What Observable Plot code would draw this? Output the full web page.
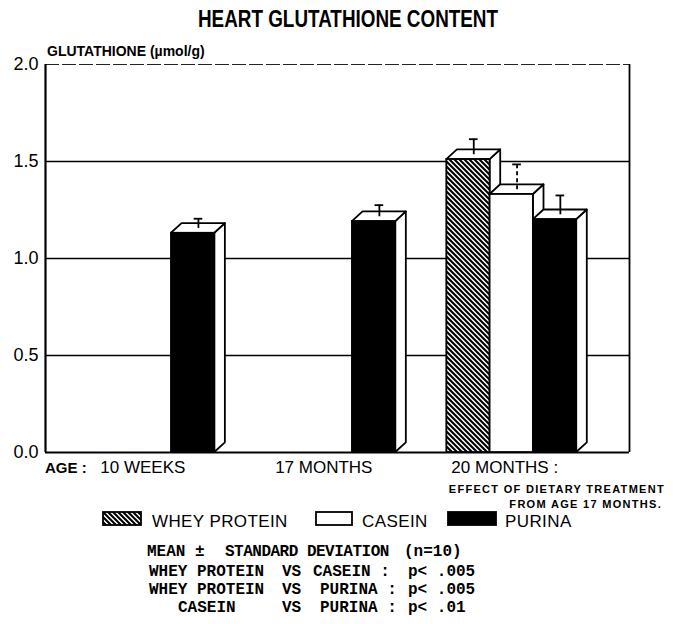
<!DOCTYPE html>
<html><head><meta charset="utf-8">
<script src="https://cdn.jsdelivr.net/npm/d3@7"></script>
<script src="https://cdn.jsdelivr.net/npm/@observablehq/plot@0.6"></script>
<style>
html,body{margin:0;padding:0;background:#fff;}
#wrap{position:relative;width:674px;height:624px;overflow:hidden;font-family:"Liberation Sans",Arial,sans-serif;color:#000;background:#fff;}
.t{position:absolute;white-space:pre;line-height:1;color:#000;}
#chart{position:absolute;left:0;top:0;}
</style></head><body>
<svg width="0" height="0" style="position:absolute"><defs>
<pattern id="hatch" patternUnits="userSpaceOnUse" width="5" height="5">
<rect width="5" height="5" fill="white"/>
<path d="M-1,-1 L6,6 M-1,4 L1,6 M4,-1 L6,1" stroke="black" stroke-width="2.1"/>
</pattern></defs></svg>
<div id="wrap"><div id="chart"></div></div>
<script>
// ---- data ----
const ages = ["10 WEEKS", "17 MONTHS", "20 MONTHS :"];
const diets = ["WHEY PROTEIN", "CASEIN", "PURINA"];
const barAge = ["10 WEEKS", "17 MONTHS", "20 MONTHS :", "20 MONTHS :", "20 MONTHS :"];
const barDiet = ["PURINA", "PURINA", "WHEY PROTEIN", "CASEIN", "PURINA"];
const barMean = [1.13, 1.19, 1.51, 1.33, 1.20];
const barSD = [0.05, 0.06, 0.08, 0.13, 0.10];
const yTicks = [0, 0.5, 1.0, 1.5, 2.0];
const gridValues = [0.5, 1.0, 1.5];
const statA = ["WHEY PROTEIN", "WHEY PROTEIN", "CASEIN"];
const statB = ["CASEIN :", "PURINA :", "PURINA :"];
const statP = ["p< .005", "p< .005", "p< .01"];

// ---- layout (scale units) ----
const GROUP = 4.18, DX = 0.245, DY = 0.05, XMIN = -0.91, XMAX = 12.58;

const bars = barMean.map((m, k) => {
  const x0 = ages.indexOf(barAge[k]) * GROUP + diets.indexOf(barDiet[k]);
  return {k, age: barAge[k], diet: barDiet[k], mean: m, sd: barSD[k], x0, x1: x0 + 1,
    cx: x0 + 0.5 + DX / 2, base: m + DY / 2, top: m + DY / 2 + barSD[k]};
});
const side = bars.flatMap(b => [
  {k: b.k, x: b.x1, y1: 0, y2: b.mean},
  {k: b.k, x: b.x1 + DX, y1: DY, y2: b.mean + DY}
]);
const topFace = bars.flatMap(b => [
  {k: b.k, x: b.x0, y1: b.mean, y2: b.mean},
  {k: b.k, x: b.x0 + DX, y1: b.mean, y2: b.mean + DY},
  {k: b.k, x: b.x1, y1: b.mean, y2: b.mean + DY},
  {k: b.k, x: b.x1 + DX, y1: b.mean + DY, y2: b.mean + DY}
]);

const chart = Plot.plot({
  width: 674, height: 624,
  marginLeft: 45, marginRight: 45, marginTop: 64, marginBottom: 172,
  x: {domain: [XMIN, XMAX], axis: null},
  y: {domain: [0, 2]},
  color: {domain: diets, range: ["url(#hatch)", "white", "black"]},
  style: {fontFamily: "'Liberation Sans', Arial, sans-serif", color: "black", background: "white"},
  marks: [
    Plot.ruleY(gridValues, {stroke: "black", strokeWidth: 1.3}),
    Plot.ruleY([2], {stroke: "#222", strokeWidth: 1, strokeDasharray: "14,3"}),
    Plot.ruleX([XMIN], {y1: 0, y2: 2, stroke: "black", strokeWidth: 2.2}),
    Plot.ruleX([XMAX], {y1: 0, y2: 2, stroke: "black", strokeWidth: 1.8}),
    Plot.ruleY([0], {stroke: "black", strokeWidth: 2.2}),
    Plot.areaY(side, {x: "x", y1: "y1", y2: "y2", z: "k", fill: "white", stroke: "black", strokeWidth: 1.8}),
    Plot.areaY(topFace, {x: "x", y1: "y1", y2: "y2", z: "k", fill: "white", stroke: "black", strokeWidth: 1.8}),
    Plot.rect(bars, {x1: "x0", x2: "x1", y1: () => 0, y2: "mean", fill: "diet", stroke: "black", strokeWidth: 1.8}),
    Plot.ruleX(bars.filter(b => b.diet !== "CASEIN"), {x: "cx", y1: "base", y2: "top", stroke: "black", strokeWidth: 1.8}),
    Plot.ruleX(bars.filter(b => b.diet === "CASEIN"), {x: "cx", y1: "base", y2: "top", stroke: "black", strokeWidth: 1.8, strokeDasharray: "4,3"}),
    Plot.ruleY(bars, {y: "top", x1: d => d.cx - 0.1, x2: d => d.cx + 0.1, stroke: "black", strokeWidth: 1.8}),
    Plot.axisY({ticks: yTicks, tickFormat: d3.format(".1f"), tickSize: 0, tickPadding: 7, fontSize: 18, label: null}),
    Plot.text(ages, {x: (d, i) => i * GROUP + 1.5, y: () => 0, dy: 15, dx: -7, text: d => d, fontSize: 17})
  ]
});
document.getElementById("chart").appendChild(chart);

// ---- annotations (HTML text) ----
const wrap = document.getElementById("wrap");
function addText(str, x, baseline, o = {}) {
  const size = o.size || 16;
  const mono = !!o.mono;
  const el = document.createElement("div");
  el.className = "t";
  el.textContent = str;
  el.style.fontSize = size + "px";
  el.style.fontFamily = mono ? "'Liberation Mono','Courier New',monospace" : "'Liberation Sans',Arial,sans-serif";
  el.style.fontWeight = o.weight || "normal";
  if (o.ls) el.style.letterSpacing = o.ls + "px";
  el.style.top = (baseline - (mono ? 0.7665 : 0.8465) * size) + "px";
  let tr = "";
  if (o.anchor === "end") { el.style.right = (674 - x) + "px"; el.style.transformOrigin = "right"; }
  else if (o.anchor === "middle") { el.style.left = x + "px"; tr += "translateX(-50%) "; }
  else { el.style.left = x + "px"; el.style.transformOrigin = "left"; }
  if (o.sx) tr += `scaleX(${o.sx})`;
  if (tr) el.style.transform = tr;
  wrap.appendChild(el);
  return el;
}
function addSwatch(x, y, w, h, fill, stroke) {
  const ns = "http://www.w3.org/2000/svg";
  const s = document.createElementNS(ns, "svg");
  s.setAttribute("width", w + 4); s.setAttribute("height", h + 4);
  s.style.position = "absolute"; s.style.left = (x - 2) + "px"; s.style.top = (y - 2) + "px";
  const r = document.createElementNS(ns, "rect");
  r.setAttribute("x", 2); r.setAttribute("y", 2); r.setAttribute("width", w); r.setAttribute("height", h);
  r.setAttribute("fill", fill); r.setAttribute("stroke", stroke); r.setAttribute("stroke-width", 1.8);
  s.appendChild(r); wrap.appendChild(s);
}

addText("HEART GLUTATHIONE CONTENT", 348, 27, {size: 23, weight: "bold", anchor: "middle", sx: 0.82});
addText("GLUTATHIONE (µmol/g)", 47, 56, {size: 14, weight: "bold"});
addText("AGE :", 45, 473, {size: 15, weight: "bold"});
addText("EFFECT OF DIETARY TREATMENT", 665, 493, {size: 11, weight: "bold", anchor: "end", ls: 1.3});
addText("FROM AGE 17 MONTHS.", 662, 508, {size: 11, weight: "bold", anchor: "end", ls: 1.3});

// legend
const legX = [103, 316, 448], legW = [38, 36, 48], legTextX = [152, 362, 505];
const legFill = ["url(#hatch)", "white", "black"];
diets.forEach((d, i) => {
  addSwatch(legX[i], 512, legW[i], 13, legFill[i], "black");
  addText(d, legTextX[i], 527, {size: 17, ls: 0.4});
});

// statistics footnote
const M = {mono: true, size: 16, weight: "bold"};
addText("MEAN ±", 147, 556, M);
addText("STANDARD DEVIATION", 225, 556, {...M, ls: -0.5});
addText("(n=10)", 404, 556, M);
const rowBase = [576, 594, 612], colA = [149, 149, 178], colB = [313, 320, 320];
statA.forEach((a, i) => {
  addText(a, colA[i], rowBase[i], M);
  addText("VS", 282, rowBase[i], M);
  addText(statB[i], colB[i], rowBase[i], M);
  addText(statP[i], 408, rowBase[i], M);
});
</script>
</body></html>
